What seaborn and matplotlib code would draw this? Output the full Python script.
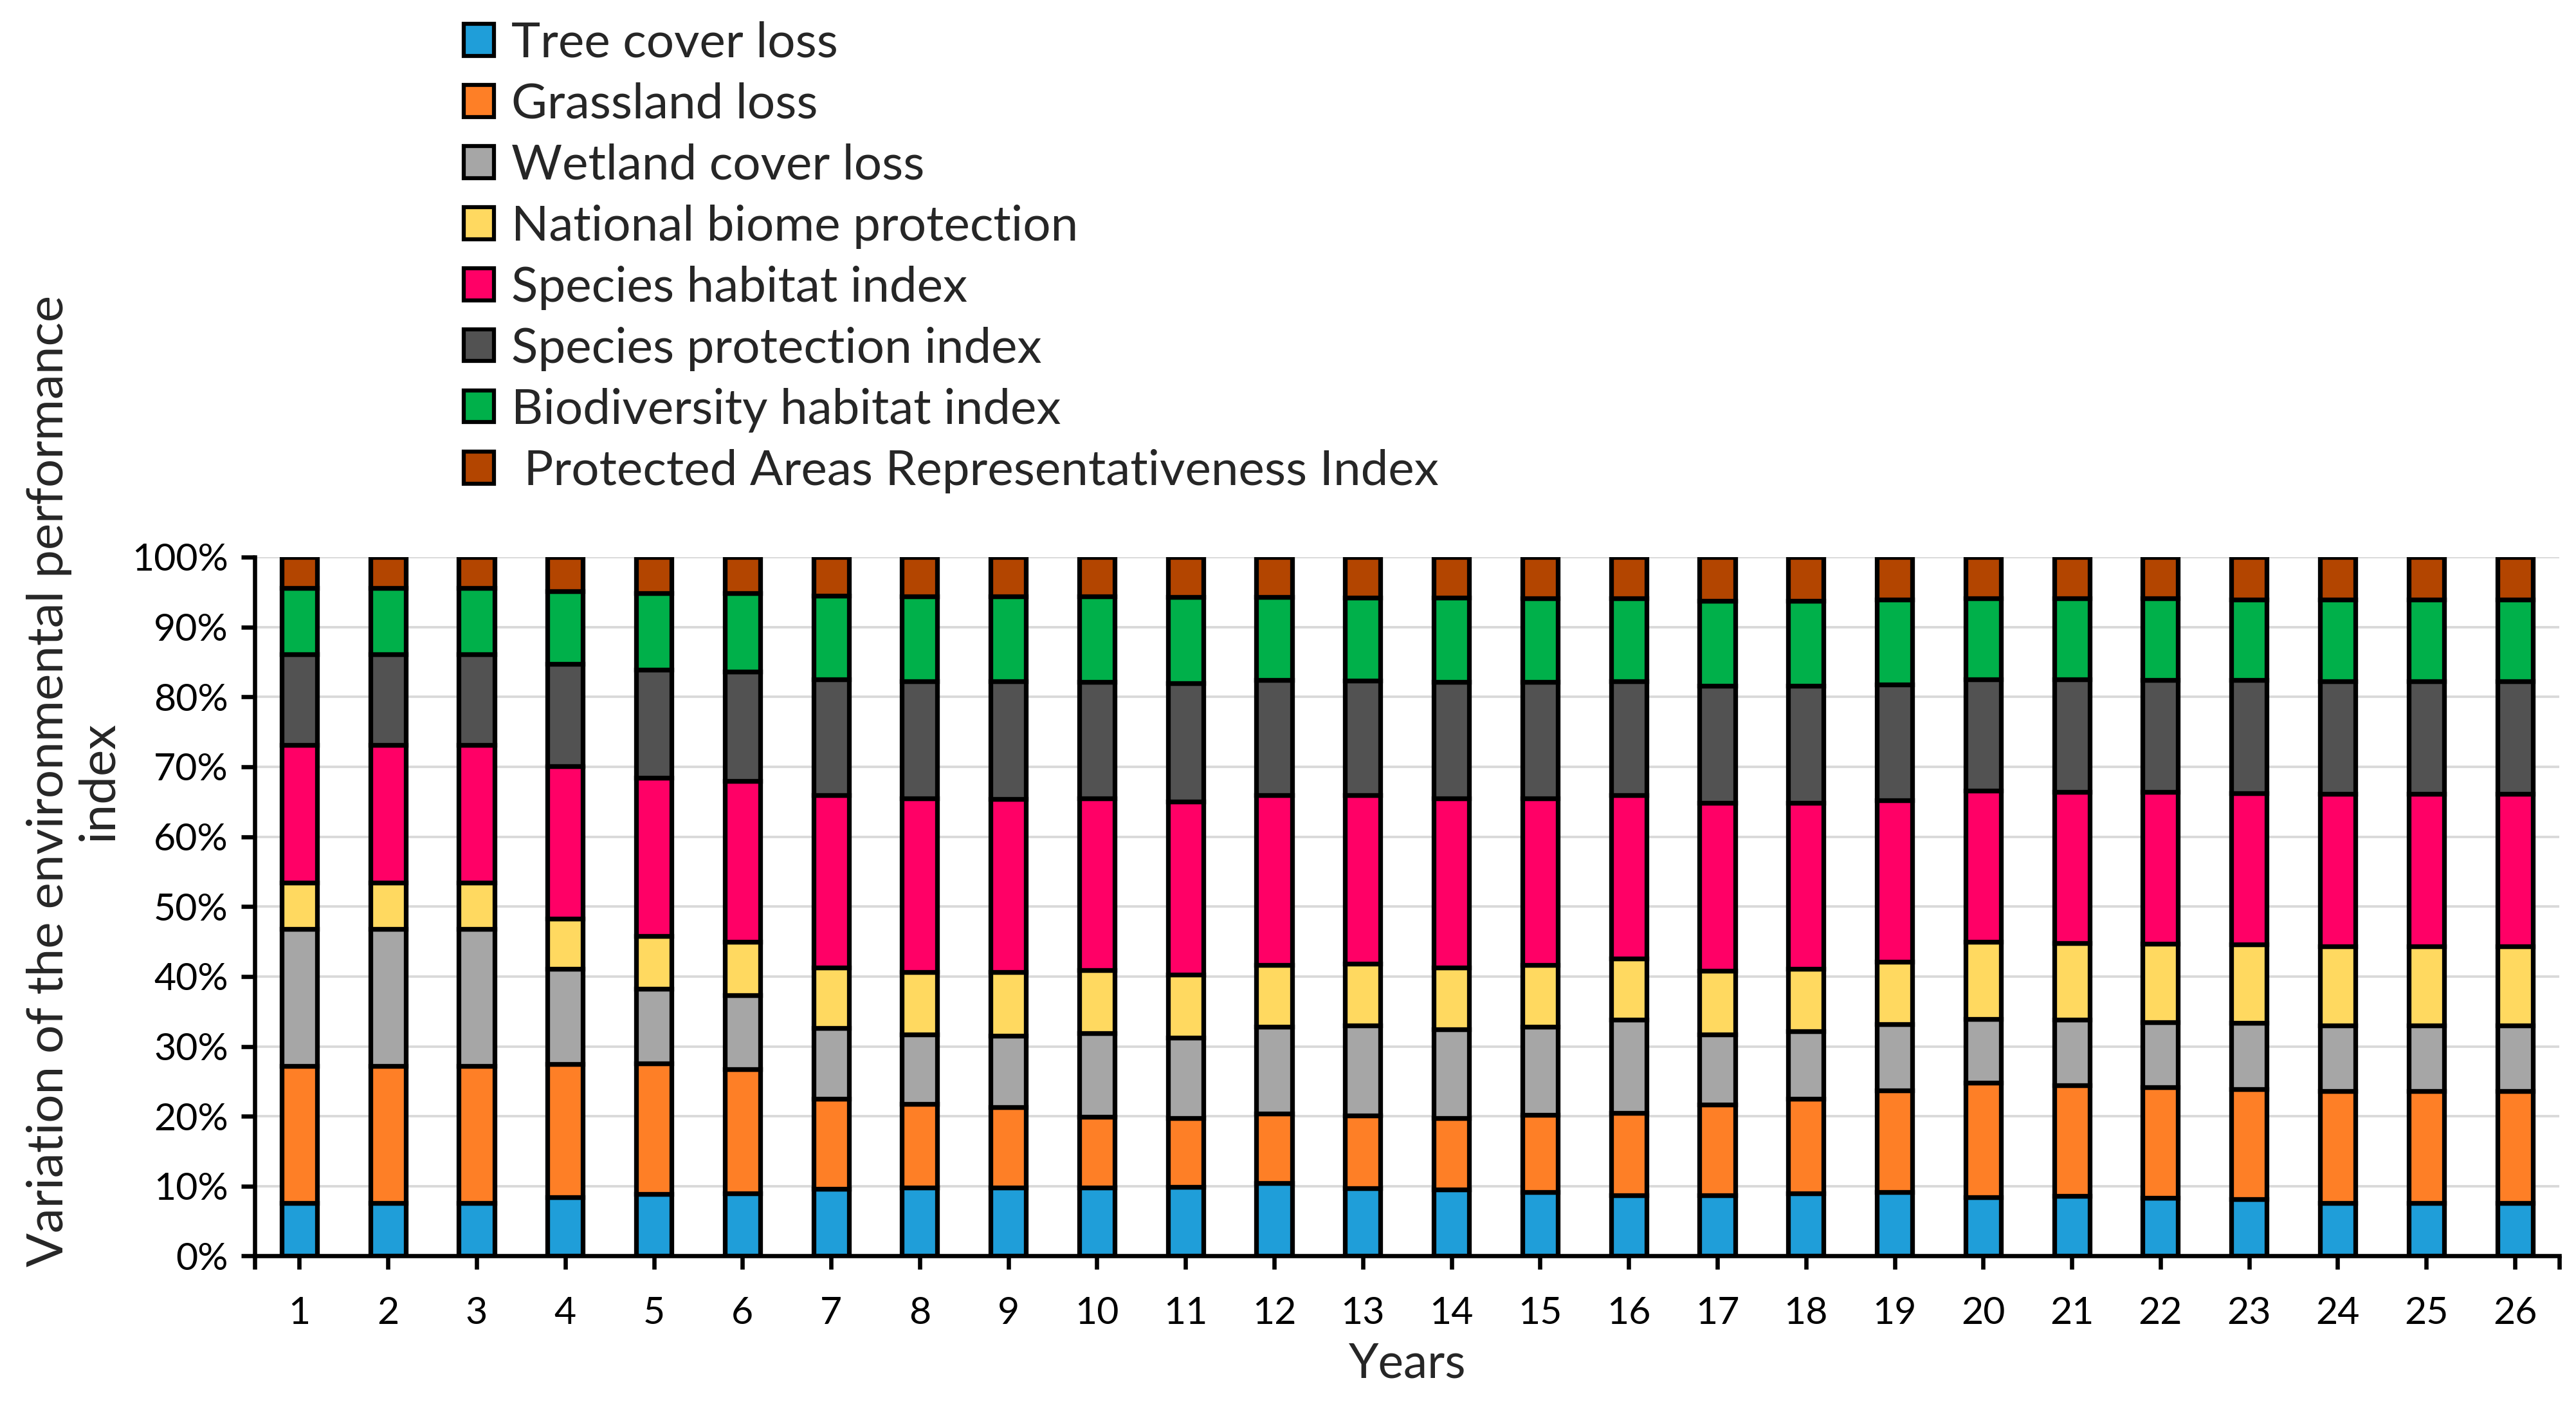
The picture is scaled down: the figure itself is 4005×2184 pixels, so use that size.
import matplotlib
matplotlib.use('Agg')
import matplotlib.pyplot as plt
from matplotlib.patches import Patch
from matplotlib.ticker import PercentFormatter
import numpy as np
import pandas as pd
import seaborn as sns

YEARS = list(range(1, 27))

SERIES = ['Tree cover loss', 'Grassland loss', 'Wetland cover loss', 'National biome protection',
          'Species habitat index', 'Species protection index', 'Biodiversity habitat index',
          ' Protected Areas Representativeness Index']

COLORS = ['#1f9ed9', '#fe7f26', '#a6a6a6', '#ffd960', '#ff0066', '#525252', '#00b04a', '#b34500']

# shares (%), one list per component, years 1..26
tree_cover = [7.6, 7.6, 7.6, 8.4, 8.9, 9.0, 9.6, 9.8, 9.8, 9.8, 9.9, 10.4, 9.7,
              9.5, 9.2, 8.7, 8.7, 9.0, 9.2, 8.4, 8.6, 8.3, 8.1, 7.6, 7.6, 7.6]
grassland = [19.6, 19.6, 19.6, 19.1, 18.7, 17.7, 12.9, 12.0, 11.5, 10.1, 9.8, 10.0, 10.4,
             10.2, 11.0, 11.8, 13.0, 13.5, 14.5, 16.4, 15.8, 15.9, 15.8, 16.0, 16.0, 16.0]
wetland = [19.6, 19.6, 19.6, 13.6, 10.6, 10.6, 10.1, 9.9, 10.2, 12.0, 11.5, 12.4, 12.9,
           12.7, 12.6, 13.3, 10.0, 9.7, 9.5, 9.1, 9.4, 9.3, 9.5, 9.4, 9.4, 9.4]
biome_protection = [6.6, 6.6, 6.6, 7.2, 7.6, 7.7, 8.7, 8.9, 9.1, 9.0, 9.1, 8.8, 8.8,
                    8.9, 8.8, 8.8, 9.1, 8.9, 8.9, 11.1, 11.0, 11.2, 11.2, 11.3, 11.3, 11.3]
species_habitat = [19.7, 19.7, 19.7, 21.8, 22.6, 23.0, 24.6, 24.9, 24.8, 24.6, 24.7, 24.3, 24.1,
                   24.2, 23.9, 23.3, 24.0, 23.7, 23.1, 21.6, 21.6, 21.7, 21.6, 21.8, 21.8, 21.8]
species_protection = [13.0, 13.0, 13.0, 14.6, 15.5, 15.6, 16.6, 16.7, 16.8, 16.6, 17.0, 16.5, 16.4,
                      16.6, 16.6, 16.3, 16.8, 16.8, 16.6, 15.9, 16.1, 16.0, 16.2, 16.1, 16.1, 16.1]
biodiversity_habitat = [9.5, 9.5, 9.5, 10.4, 10.9, 11.2, 12.0, 12.2, 12.2, 12.3, 12.3, 11.9, 11.9,
                        12.1, 12.0, 11.9, 12.1, 12.1, 12.1, 11.6, 11.6, 11.7, 11.5, 11.7, 11.7, 11.7]
protected_areas = [4.4, 4.4, 4.4, 4.9, 5.2, 5.2, 5.5, 5.6, 5.6, 5.6, 5.7, 5.7, 5.8,
                   5.8, 5.9, 5.9, 6.3, 6.3, 6.1, 5.9, 5.9, 5.9, 6.1, 6.1, 6.1, 6.1]

VALUES = [tree_cover, grassland, wetland, biome_protection, species_habitat,
          species_protection, biodiversity_habitat, protected_areas]


def get_df():
    rows = []
    for name, vals in zip(SERIES, VALUES):
        for year, v in zip(YEARS, vals):
            rows.append({'year': year, 'series': name, 'value': v})
    return pd.DataFrame(rows)


def main():
    sns.set_style('white')
    plt.rcParams['font.family'] = ['Lato', 'DejaVu Sans']

    df = get_df()

    fig = plt.figure(figsize=(16.02, 8.736), dpi=250)
    ax = fig.add_axes([0.099, 0.106, 0.8945, 0.4975])

    # seaborn stacks the last hue level at the bottom, so pass the order reversed
    sns.histplot(data=df, x='year', hue='series', weights='value', multiple='fill',
                 discrete=True, shrink=0.4, hue_order=SERIES[::-1],
                 palette=dict(zip(SERIES, COLORS)), edgecolor='black', linewidth=2.1,
                 alpha=1, legend=False, ax=ax)

    ax.set_xlim(0.5, 26.5)
    ax.set_ylim(0, 1)
    ax.set_xticks(YEARS)
    ax.set_xticks([0.5, 26.5], minor=True)
    ax.set_yticks(np.linspace(0, 1, 11))
    ax.yaxis.set_major_formatter(PercentFormatter(1, decimals=0))
    ax.yaxis.grid(True, color='#d9d9d9', linewidth=1.1)
    ax.set_axisbelow(True)

    for side in ['top', 'right']:
        ax.spines[side].set_visible(False)
    for side in ['left', 'bottom']:
        ax.spines[side].set_color('black')
        ax.spines[side].set_linewidth(1.9)

    ax.tick_params(axis='both', which='both', direction='out', length=6, width=1.9,
                   colors='black', labelsize=17)
    ax.tick_params(axis='x', which='both', bottom=True, pad=12)
    ax.tick_params(axis='y', left=True, pad=6)

    ax.set_xlabel('Years', fontsize=21.5, labelpad=5)
    ax.set_ylabel('Variation of the environmental performance\nindex', fontsize=22.5,
                  linespacing=1.1)
    ax.yaxis.set_label_coords(-0.058, 0.68)

    handles = [Patch(facecolor=c, edgecolor='black', linewidth=1.8, label=s)
               for s, c in zip(SERIES, COLORS)]
    fig.legend(handles=handles, loc='upper left', bbox_to_anchor=(0.180, 0.985),
               frameon=False, fontsize=22, handlelength=0.62, handleheight=0.62,
               handletextpad=0.35, labelspacing=0.34, borderpad=0, borderaxespad=0)

    fig.savefig('out.png', dpi=250)
    plt.close(fig)


if __name__ == '__main__':
    main()
